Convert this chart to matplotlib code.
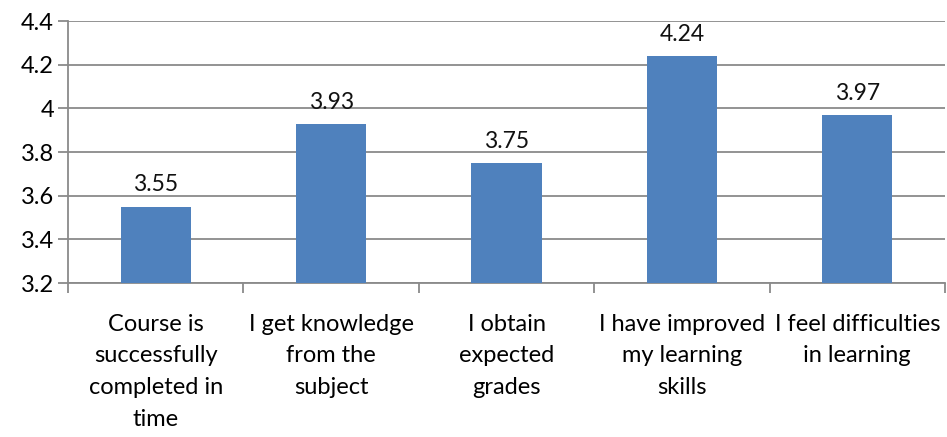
import matplotlib.pyplot as plt
import numpy as np

# survey items and mean scores
categories = ['Course is\nsuccessfully\ncompleted in\ntime',
              'I get knowledge\nfrom the\nsubject',
              'I obtain\nexpected\ngrades',
              'I have improved\nmy learning\nskills',
              'I feel difficulties\nin learning']
scores = [3.55, 3.93, 3.75, 4.24, 3.97]
y_ticks = [3.2, 3.4, 3.6, 3.8, 4.0, 4.2, 4.4]
y_tick_labels = ['3.2', '3.4', '3.6', '3.8', '4', '4.2', '4.4']

plt.rcParams['font.family'] = ['Lato', 'DejaVu Sans']

fig = plt.figure(figsize=(9.47, 4.37), dpi=100)
ax = fig.add_axes([68 / 947, 1 - 283 / 437, 877 / 947, 262 / 437])

x = np.arange(len(categories))
ax.bar(x, scores, width=0.4, color='#4F81BD', zorder=3, bottom=0)

for xi, v in zip(x, scores):
    ax.annotate(f'{v:.2f}', (xi, v), xytext=(0, 8), textcoords='offset points',
                ha='center', va='bottom', fontsize=16.5, color='#111111')

ax.set_ylim(3.2, 4.4)
ax.set_xlim(-0.5, len(categories) - 0.5)
ax.set_yticks(y_ticks)
ax.set_yticklabels(y_tick_labels, fontsize=17)

ax.yaxis.grid(True, color='#8A8A8A', linewidth=1.3, zorder=0)

ax.set_xticks(x)
ax.set_xticklabels(categories, fontsize=17, linespacing=1.63)
ax.tick_params(axis='x', which='major', length=0, pad=22)
ax.set_xticks(np.arange(-0.5, len(categories)), minor=True)
ax.tick_params(axis='x', which='minor', length=7, width=1.3, color='#8A8A8A')
ax.tick_params(axis='y', length=7, width=1.3, color='#8A8A8A', pad=3)

for side in ['top', 'right']:
    ax.spines[side].set_visible(False)
for side in ['left', 'bottom']:
    ax.spines[side].set_color('#8A8A8A')
    ax.spines[side].set_linewidth(1.3)

fig.savefig('out.png', dpi=100)
